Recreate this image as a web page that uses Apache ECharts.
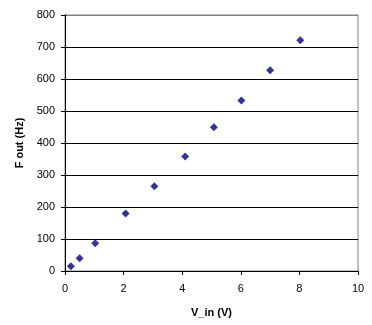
<!DOCTYPE html>
<html><head><meta charset="utf-8">
<script src="https://cdn.jsdelivr.net/npm/echarts@6/dist/echarts.min.js"></script>
<style>html,body{margin:0;padding:0;background:#fff}#c{width:372px;height:325px}</style>
</head><body><div id="c"></div>
<script>
var vIn = [0.2, 0.5, 1.03, 2.07, 3.05, 4.1, 5.08, 6.02, 7.0, 8.03];
var fOut = [15, 40, 87, 180, 265, 358, 449, 533, 627, 721];
var xTitle = 'V_in (V)';
var yTitle = 'F out (Hz)';
var pts = vIn.map(function (v, i) { return [v, fOut[i]]; });
var chart = echarts.init(document.getElementById('c'), null, {renderer: 'canvas'});
var font = 'Liberation Sans, Arial, sans-serif';
chart.setOption({
  animation: false,
  backgroundColor: '#fff',
  grid: {left: 65, top: 15, right: 14, bottom: 54, show: true, borderColor: '#808080', borderWidth: 1, backgroundColor: 'transparent'},
  xAxis: {
    type: 'value', min: 0, max: 10, interval: 2,
    name: xTitle, nameLocation: 'middle', nameGap: 36,
    nameTextStyle: {fontFamily: font, fontSize: 11, fontWeight: 'bold', color: '#000'},
    axisLine: {lineStyle: {color: '#000', width: 1}},
    axisTick: {show: true, length: 4, lineStyle: {color: '#000'}},
    axisLabel: {fontFamily: font, fontSize: 11, color: '#000', margin: 12},
    splitLine: {show: false}
  },
  yAxis: {
    type: 'value', min: 0, max: 800, interval: 100,
    name: yTitle, nameLocation: 'middle', nameGap: 38,
    nameTextStyle: {fontFamily: font, fontSize: 11, fontWeight: 'bold', color: '#000'},
    axisLine: {show: true, lineStyle: {color: '#000', width: 1}},
    axisTick: {show: true, length: 4, lineStyle: {color: '#000'}},
    axisLabel: {fontFamily: font, fontSize: 11, color: '#000', margin: 10},
    splitLine: {show: true, lineStyle: {color: ['#000', '#000', '#000', '#000', '#000', '#000', '#000', '#000', '#808080'], width: 1}}
  },
  series: [{
    type: 'scatter', data: pts, symbol: 'diamond', symbolSize: 8,
    itemStyle: {color: '#000080'}
  }]
});
</script></body></html>
